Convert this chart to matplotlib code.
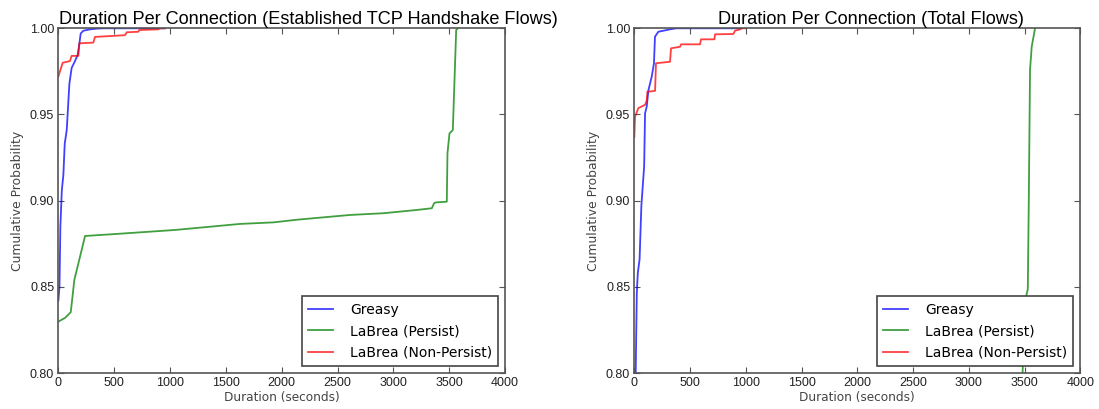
import matplotlib
matplotlib.use("Agg")
import matplotlib.pyplot as plt

# 持续时间 CDF 数据
# 左图: Established TCP Handshake Flows
est_greasy_x = [0, 10, 18, 31, 45, 57, 75, 90, 99, 119, 149, 173, 188, 200, 224, 284, 343, 400, 950]
est_greasy_y = [0.842, 0.850, 0.885, 0.906, 0.915, 0.933, 0.941, 0.958, 0.968, 0.977, 0.981,
                0.9846, 0.991, 0.997, 0.9986, 0.9994, 0.9998, 1.0, 1.0]

est_persist_x = [0, 60, 111, 120, 143, 194, 239, 523, 1046, 1627, 1926, 2146, 2612, 2910, 3209,
                 3344, 3364, 3382, 3478, 3484, 3502, 3532, 3562, 3577]
est_persist_y = [0.8298, 0.832, 0.8353, 0.8405, 0.854, 0.8675, 0.8795, 0.8807, 0.883, 0.8865,
                 0.8874, 0.889, 0.8917, 0.8927, 0.8946, 0.8956, 0.8985, 0.899, 0.8994, 0.9275,
                 0.939, 0.941, 0.999, 1.0]

est_nonpersist_x = [0, 39, 104, 119, 179, 188, 313, 328, 597, 612, 716, 725, 895, 910, 955]
est_nonpersist_y = [0.972, 0.980, 0.981, 0.984, 0.984, 0.9913, 0.9917, 0.995, 0.996, 0.9977,
                    0.998, 0.999, 0.9994, 1.0, 1.0]

# 右图: Total Flows
tot_greasy_x = [10, 12, 22, 31, 47, 63, 88, 96, 111, 126, 156, 176, 185, 215, 320, 376, 960]
tot_greasy_y = [0.78, 0.80, 0.8464, 0.858, 0.866, 0.897, 0.920, 0.9507, 0.9545, 0.964, 0.972,
                0.9797, 0.9951, 0.998, 0.9994, 1.0, 1.0]

tot_persist_x = [3478, 3482, 3507, 3529, 3538, 3549, 3564, 3594]
tot_persist_y = [0.79, 0.80, 0.8425, 0.8487, 0.9005, 0.976, 0.9893, 1.0]

tot_nonpersist_x = [0, 6, 36, 96, 111, 117, 186, 194, 320, 329, 410, 419, 589, 598, 718, 724,
                    888, 903, 948, 963, 1000]
tot_nonpersist_y = [0.937, 0.9487, 0.9537, 0.9556, 0.958, 0.9632, 0.9637, 0.9797, 0.9806, 0.9884,
                    0.9893, 0.9907, 0.9907, 0.9936, 0.9936, 0.9965, 0.9967, 0.9986, 0.9994, 1.0, 1.0]

labels = ['Greasy', 'LaBrea (Persist)', 'LaBrea (Non-Persist)']
titles = ['Duration Per Connection (Established TCP Handshake Flows)',
          'Duration Per Connection (Total Flows)']
x_ticks = [0, 500, 1000, 1500, 2000, 2500, 3000, 3500, 4000]
y_ticks = [0.80, 0.85, 0.90, 0.95, 1.00]

plt.rcParams['font.family'] = ['DejaVu Sans']
plt.rcParams['xtick.direction'] = 'in'
plt.rcParams['ytick.direction'] = 'in'
plt.rcParams['xtick.top'] = True
plt.rcParams['ytick.right'] = True

fig = plt.figure(figsize=(10.99, 4.09), dpi=100)
ax1 = fig.add_axes([0.0531, 0.088, 0.4065, 0.8428])
ax2 = fig.add_axes([0.5772, 0.088, 0.4058, 0.8428])

panels = [
    (ax1, est_greasy_x, est_greasy_y, est_persist_x, est_persist_y,
     est_nonpersist_x, est_nonpersist_y, titles[0], 0.56),
    (ax2, tot_greasy_x, tot_greasy_y, tot_persist_x, tot_persist_y,
     tot_nonpersist_x, tot_nonpersist_y, titles[1], 0.53),
]

for ax, gx, gy, px, py, nx, ny, title, tx in panels:
    ax.plot(gx, gy, color='blue', alpha=0.75, lw=1.3, label=labels[0])
    ax.plot(px, py, color='green', alpha=0.75, lw=1.3, label=labels[1])
    ax.plot(nx, ny, color='red', alpha=0.75, lw=1.3, label=labels[2])
    ax.set_xlim(0, 4000)
    ax.set_ylim(0.80, 1.00)
    ax.set_xticks(x_ticks)
    ax.set_yticks(y_ticks)
    ax.set_yticklabels(['%.2f' % v for v in y_ticks])
    ax.tick_params(length=4, width=0.8, color='#555555', labelsize=8.5,
                   labelcolor='#222222', pad=3)
    for lab in ax.get_xticklabels() + ax.get_yticklabels():
        lab.set_family('Liberation Sans')
        lab.set_fontsize(9)
    for sp in ax.spines.values():
        sp.set_color('#555555')
        sp.set_linewidth(1.2)
    ax.set_xlabel('Duration (seconds)', fontsize=8.7, color='#444444', labelpad=1)
    ax.set_ylabel('Cumulative Probability', fontsize=8.9, color='#444444', labelpad=4)
    ax.set_title(title, family='Liberation Sans', fontsize=13.1, x=tx, pad=2)
    leg = ax.legend(loc='lower right', fontsize=10, fancybox=False, framealpha=1,
                    handlelength=1.8, handletextpad=1.2, labelspacing=0.55,
                    borderaxespad=0.5, borderpad=0.45)
    leg.get_frame().set_edgecolor('#444444')
    leg.get_frame().set_linewidth(1.2)
    for line in leg.get_lines():
        line.set_alpha(0.75)

fig.savefig('out.png', dpi=100)
